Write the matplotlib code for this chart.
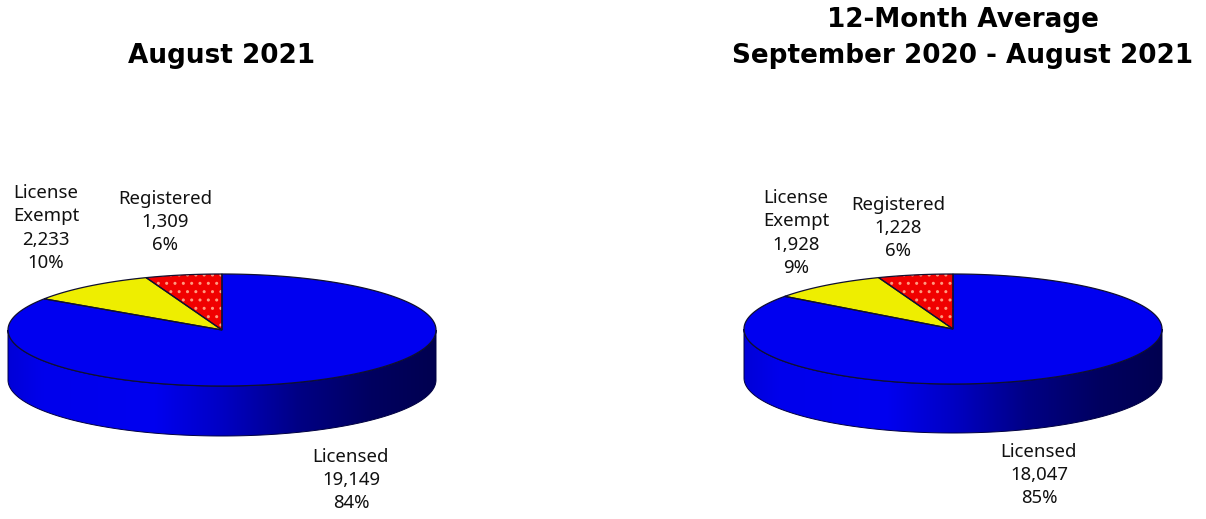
# plot.py
"""Two 3D-style pie charts of child care counts by provider type."""

import numpy as np
import matplotlib
matplotlib.use("Agg")
import matplotlib.pyplot as plt
from matplotlib.colors import LinearSegmentedColormap
from matplotlib.patches import Polygon

# data
categories = ["Licensed", "License\nExempt", "Registered"]
month_values = [19149, 2233, 1309]
month_percents = [84, 10, 6]
average_values = [18047, 1928, 1228]
average_percents = [85, 9, 6]
month_title = "August 2021"
average_title = "12-Month Average\nSeptember 2020 - August 2021"

BLUE = "#0000f0"
YELLOW = "#eeee00"
RED = "#f00000"
side_cmap = LinearSegmentedColormap.from_list(
    "side", [(0, "#0000d8"), (0.08, "#0000ec"), (0.34, "#0000f0"), (0.5, "#0000c4"),
             (0.68, "#000084"), (0.85, "#000060"), (1, "#000050")]
)


def ellipse_pts(cx, cy, a, b, theta):
    # theta is clockwise from 12 o'clock
    return np.column_stack([cx + a * np.sin(theta), cy - b * np.cos(theta)])


def draw_pie(ax, values, percents, title, title_xy, cx, cy, a, b, depth, label_pos):
    values = np.array(values, dtype=float)
    frac = values / values.sum()

    # side wall, front half only
    th = np.linspace(np.pi / 2, 3 * np.pi / 2, 200)
    front = ellipse_pts(cx, cy, a, b, th)
    lower = front[::-1] + [0, depth]
    wall = np.vstack([front, lower])
    patch = Polygon(wall, closed=True, facecolor="none", edgecolor="none")
    ax.add_patch(patch)
    grad = np.linspace(0, 1, 256).reshape(1, -1)
    im = ax.imshow(grad, extent=(cx - a, cx + a, cy + b + depth, cy), cmap=side_cmap,
                   aspect="auto", zorder=1, vmin=0, vmax=1)
    im.set_clip_path(patch)
    ax.add_patch(Polygon(wall, closed=True, facecolor="none", edgecolor="#000040", lw=0.7, zorder=2))

    # top face, slices run counter-clockwise from 12 o'clock: registered, exempt, licensed
    start = 0.0
    order = [(2, RED), (1, YELLOW), (0, BLUE)]
    for idx, color in order:
        end = start - frac[idx] * 2 * np.pi
        arc = ellipse_pts(cx, cy, a, b, np.linspace(start, end, 300))
        pts = np.vstack([[cx, cy], arc])
        ax.add_patch(Polygon(pts, closed=True, facecolor=color, edgecolor="none", zorder=3))
        if idx == 2:
            ax.add_patch(Polygon(pts, closed=True, facecolor="none", edgecolor="#ff9a80",
                                 hatch="..", lw=0, zorder=3.5))
        ax.add_patch(Polygon(pts, closed=True, facecolor="none", edgecolor="#101030", lw=0.9, zorder=4))
        start = end

    ax.text(title_xy[0], title_xy[1], title, ha="center", va="center", fontsize=18.9,
            fontweight="bold", family="DejaVu Sans", linespacing=1.5, color="black")

    for i, (x, y) in enumerate(label_pos):
        text = f"{categories[i]}\n{int(values[i]):,}\n{percents[i]}%"
        ax.text(x, y, text, ha="center", va="center", fontsize=13.4, family="Noto Sans",
                linespacing=1.36, color="#111111", zorder=5)


fig = plt.figure(figsize=(12.06, 5.19), dpi=100)
ax = fig.add_axes([0, 0, 1, 1])

draw_pie(ax, month_values, month_percents, month_title, (221, 56),
         222, 330, 214, 56, 50, [(351, 480), (46, 228), (165, 222)])
draw_pie(ax, average_values, average_percents, average_title, (963, 38),
         953, 329, 209, 55, 49, [(1039, 475), (796, 233), (898, 228)])

ax.set_xlim(0, 1206)
ax.set_ylim(519, 0)
ax.axis("off")

fig.savefig("out.png", dpi=100, facecolor="white")
